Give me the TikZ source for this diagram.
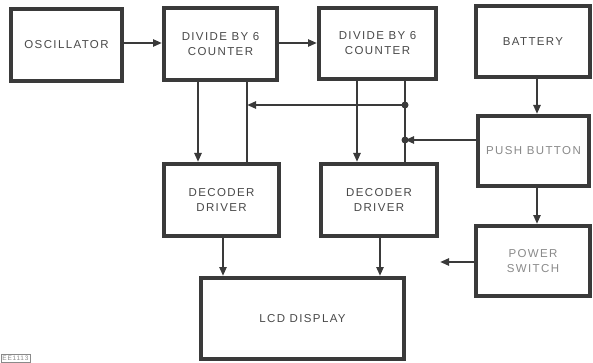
\documentclass[tikz,border=0pt]{standalone}
\usepackage{fontspec}
\setmainfont{Liberation Sans}[LetterSpace=12]
\usetikzlibrary{arrows.meta}
\definecolor{ink}{HTML}{3A3A3A}
\definecolor{txt}{HTML}{4A4A4A}
\definecolor{lighttxt}{HTML}{8A8A8A}
\tikzset{
  blk/.style={draw=ink, line width=4pt, fill=white, align=center, inner sep=0pt,
              font=\fontsize{11.5}{15}\selectfont, text=txt},
  conn/.style={draw=ink, line width=2.8pt},
  arr/.style={conn, -{Triangle[length=9pt,width=7pt]}},
  jdot/.style={circle, fill=ink, inner sep=0pt, minimum size=7pt}
}
\begin{document}
\begin{tikzpicture}[x=1pt,y=-1pt]
\useasboundingbox (0,0) rectangle (593,363);
% blocks
\node[blk, minimum width=111pt, minimum height=72pt] (osc) at (66.5,45) {OSCILLATOR};
\node[blk, minimum width=113pt, minimum height=72pt] (div1) at (220.5,44) {DIVIDE BY 6\\COUNTER};
\node[blk, minimum width=117pt, minimum height=71pt] (div2) at (377.5,43.5) {DIVIDE BY 6\\COUNTER};
\node[blk, minimum width=114pt, minimum height=71pt] (bat) at (533,41.5) {BATTERY};
\node[blk, minimum width=111pt, minimum height=70pt, text=lighttxt] (push) at (533.5,151) {PUSH BUTTON};
\node[blk, minimum width=114pt, minimum height=70pt, text=lighttxt] (pwr) at (533,261) {POWER\\SWITCH};
\node[blk, minimum width=115pt, minimum height=72pt] (dec1) at (221.5,200) {DECODER\\DRIVER};
\node[blk, minimum width=116pt, minimum height=72pt] (dec2) at (379,200) {DECODER\\DRIVER};
\node[blk, minimum width=203pt, minimum height=81pt] (lcd) at (302.5,318.5) {LCD DISPLAY};
% helper coordinates
\coordinate (c1) at (198,0);
\coordinate (c2) at (247,105);
\coordinate (c3) at (357,0);
\coordinate (c4) at (405,105);
\coordinate (c5) at (405,140);
\coordinate (c6) at (223,0);
\coordinate (c7) at (380,0);
\coordinate (c8) at (537,0);
\coordinate (pout) at (440,262);
% connectors
\draw[arr] (osc.east |- 0,43) -- (div1.west |- 0,43);
\draw[arr] (div1.east |- 0,43) -- (div2.west |- 0,43);
\draw[arr] (div1.south -| c1) -- (dec1.north -| c1);
\draw[conn] (div1.south -| c2) -- (dec1.north -| c2);
\draw[arr] (div2.south -| c3) -- (dec2.north -| c3);
\draw[conn] (div2.south -| c4) -- (dec2.north -| c4);
\draw[arr] (c4) -- (c2);
\draw[arr] (push.west |- c5) -- (c5);
\node[jdot] (d1) at (c4) {};
\node[jdot] (d2) at (c5) {};
\draw[arr] (bat.south -| c8) -- (push.north -| c8);
\draw[arr] (push.south -| c8) -- (pwr.north -| c8);
\draw[arr] (pwr.west |- pout) -- (pout);
\draw[arr] (dec1.south -| c6) -- (lcd.north -| c6);
\draw[arr] (dec2.south -| c7) -- (lcd.north -| c7);
% reference tag
\node[draw=lighttxt, line width=0.8pt, anchor=south west, inner sep=1.5pt,
      font=\fontsize{6.5}{7}\selectfont, text=lighttxt] (tag) at (0.5,362.5) {EE1113};
\end{tikzpicture}
\end{document}
